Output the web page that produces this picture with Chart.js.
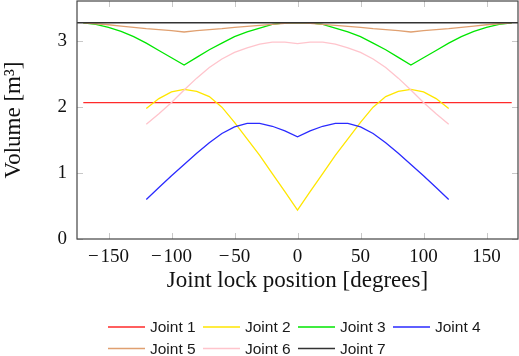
<!DOCTYPE html>
<html>
<head>
<meta charset="utf-8">
<script src="https://cdn.jsdelivr.net/npm/chart.js@4/dist/chart.umd.min.js"></script>
<style>
body { margin: 0; background: #fff; }
canvas { display: block; }
</style>
</head>
<body>
<canvas id="myChart" width="519" height="356"></canvas>
<script>
// joint angles (degrees)
const angles170 = [-170,-160,-150,-140,-130,-120,-110,-100,-90,-80,-70,-60,-50,-40,-30,-20,-10,0,10,20,30,40,50,60,70,80,90,100,110,120,130,140,150,160,170];
const angles120 = [-120,-110,-100,-90,-80,-70,-60,-50,-40,-30,-20,-10,0,10,20,30,40,50,60,70,80,90,100,110,120];
const angles175 = [-175, 175];

// volumes [m^3]
const joint1 = [2.07,2.07,2.07,2.07,2.07,2.07,2.07,2.07,2.07,2.07,2.07,2.07,2.07,2.07,2.07,2.07,2.07,2.07,2.07,2.07,2.07,2.07,2.07,2.07,2.07,2.07,2.07,2.07,2.07,2.07,2.07,2.07,2.07,2.07,2.07];
const joint2 = [1.98,2.13,2.23,2.27,2.24,2.16,2.00,1.77,1.52,1.27,0.99,0.72,0.44,0.72,0.99,1.27,1.52,1.77,2.00,2.16,2.24,2.27,2.23,2.13,1.98];
const joint3 = [3.28,3.255,3.21,3.15,3.07,2.97,2.86,2.75,2.64,2.755,2.87,2.97,3.07,3.14,3.20,3.255,3.277,3.28,3.277,3.255,3.20,3.14,3.07,2.97,2.87,2.755,2.64,2.75,2.86,2.97,3.07,3.15,3.21,3.255,3.28];
const joint4 = [0.60,0.78,0.96,1.13,1.30,1.46,1.60,1.70,1.755,1.755,1.71,1.64,1.55,1.64,1.71,1.755,1.755,1.70,1.60,1.46,1.30,1.13,0.96,0.78,0.60];
const joint5 = [3.28,3.265,3.25,3.23,3.21,3.19,3.175,3.16,3.14,3.16,3.175,3.19,3.21,3.225,3.24,3.255,3.27,3.28,3.27,3.255,3.24,3.225,3.21,3.19,3.175,3.16,3.14,3.16,3.175,3.19,3.21,3.23,3.25,3.265,3.28];
const joint6 = [1.74,1.90,2.07,2.26,2.44,2.60,2.73,2.83,2.90,2.955,2.985,2.985,2.965,2.985,2.985,2.955,2.90,2.83,2.73,2.60,2.44,2.26,2.07,1.90,1.74];
const joint7 = [3.28, 3.28];

const labels = ["Joint 1","Joint 2","Joint 3","Joint 4","Joint 5","Joint 6","Joint 7"];
const colors = ["#ff2a2a","#ffe600","#00e600","#2a2aff","#e0a070","#ffc4cc","#333333"];

const xTicks = [-150,-100,-50,0,50,100,150];
const yTicks = [0,1,2,3];

function pts(xs, ys) {
  return xs.map((x, i) => ({x: x, y: ys[i]}));
}

const series = [
  pts(angles170, joint1), pts(angles120, joint2), pts(angles170, joint3),
  pts(angles120, joint4), pts(angles170, joint5), pts(angles120, joint6),
  pts(angles175, joint7)
];

const datasets = series.map((d, i) => ({
  label: labels[i],
  data: d,
  borderColor: colors[i],
  backgroundColor: colors[i],
  borderWidth: 1.3,
  pointRadius: 0,
  tension: 0,
  fill: false,
  order: 7 - i
}));

// frame box + inner tick marks, pgfplots style
const framePlugin = {
  id: "frame",
  beforeDatasetsDraw(chart) {
    const {ctx, chartArea: a, scales} = chart;
    ctx.save();
    ctx.strokeStyle = "#c8c8c8";
    ctx.lineWidth = 1;
    ctx.beginPath();
    xTicks.forEach(v => {
      const px = Math.round(scales.x.getPixelForValue(v)) + 0.5;
      ctx.moveTo(px, a.bottom); ctx.lineTo(px, a.bottom - 6);
      ctx.moveTo(px, a.top); ctx.lineTo(px, a.top + 6);
    });
    yTicks.forEach(v => {
      const py = Math.round(scales.y.getPixelForValue(v)) + 0.5;
      ctx.moveTo(a.left, py); ctx.lineTo(a.left + 6, py);
      ctx.moveTo(a.right, py); ctx.lineTo(a.right - 6, py);
    });
    ctx.stroke();
    ctx.restore();
  },
  afterDatasetsDraw(chart) {
    const {ctx, chartArea: a} = chart;
    ctx.save();
    ctx.strokeStyle = "#444";
    ctx.lineWidth = 1.2;
    ctx.strokeRect(a.left, a.top, a.right - a.left, a.bottom - a.top);
    ctx.restore();
  },
  afterDraw(chart) {
    // legend: 4 columns, left aligned rows
    const ctx = chart.ctx;
    ctx.save();
    ctx.font = "15.5px 'Liberation Sans', Arial, sans-serif";
    ctx.textBaseline = "middle";
    ctx.fillStyle = "#1a1a1a";
    labels.forEach((lab, i) => {
      const col = i % 4, row = Math.floor(i / 4);
      const x = 108 + col * 95;
      const y = 327 + row * 21.5;
      ctx.strokeStyle = colors[i];
      ctx.lineWidth = 1.3;
      ctx.beginPath();
      ctx.moveTo(x, y); ctx.lineTo(x + 37, y);
      ctx.stroke();
      ctx.fillText(lab, x + 42, y + 1);
    });
    ctx.restore();
  }
};

const serif = "'Liberation Serif', 'Times New Roman', serif";

new Chart(document.getElementById("myChart"), {
  type: "line",
  data: { datasets: datasets },
  options: {
    responsive: false,
    animation: false,
    devicePixelRatio: 1,
    layout: { padding: { top: 1, right: 1, bottom: 61, left: 0 } },
    plugins: { legend: { display: false }, tooltip: { enabled: false } },
    scales: {
      x: {
        type: "linear",
        min: -175,
        max: 175,
        grid: { display: false, drawTicks: false },
        border: { display: false },
        afterBuildTicks: s => { s.ticks = xTicks.map(v => ({value: v})); },
        afterFit: s => { s.height = 56; s.paddingLeft = 0; s.paddingRight = 0; },
        ticks: {
          padding: 7,
          color: "#111",
          font: { family: serif, size: 19 },
          callback: v => v < 0 ? "\u2212\u200a" + Math.abs(v) : String(v)
        },
        title: {
          display: true,
          text: "Joint lock position [degrees]",
          color: "#111",
          font: { family: serif, size: 23 },
          padding: { top: 0, bottom: 0 }
        }
      },
      y: {
        min: 0,
        max: 3.61,
        grid: { display: false, drawTicks: false },
        border: { display: false },
        afterBuildTicks: s => { s.ticks = yTicks.map(v => ({value: v})); },
        afterFit: s => { s.width = 77; s.paddingTop = 0; s.paddingBottom = 0; },
        ticks: {
          padding: 10,
          color: "#111",
          font: { family: serif, size: 19 }
        },
        title: {
          display: true,
          text: "Volume [m\u00b3]",
          color: "#111",
          font: { family: serif, size: 23 },
          padding: { top: 0, bottom: 0 }
        }
      }
    }
  },
  plugins: [framePlugin]
});
</script>
</body>
</html>
